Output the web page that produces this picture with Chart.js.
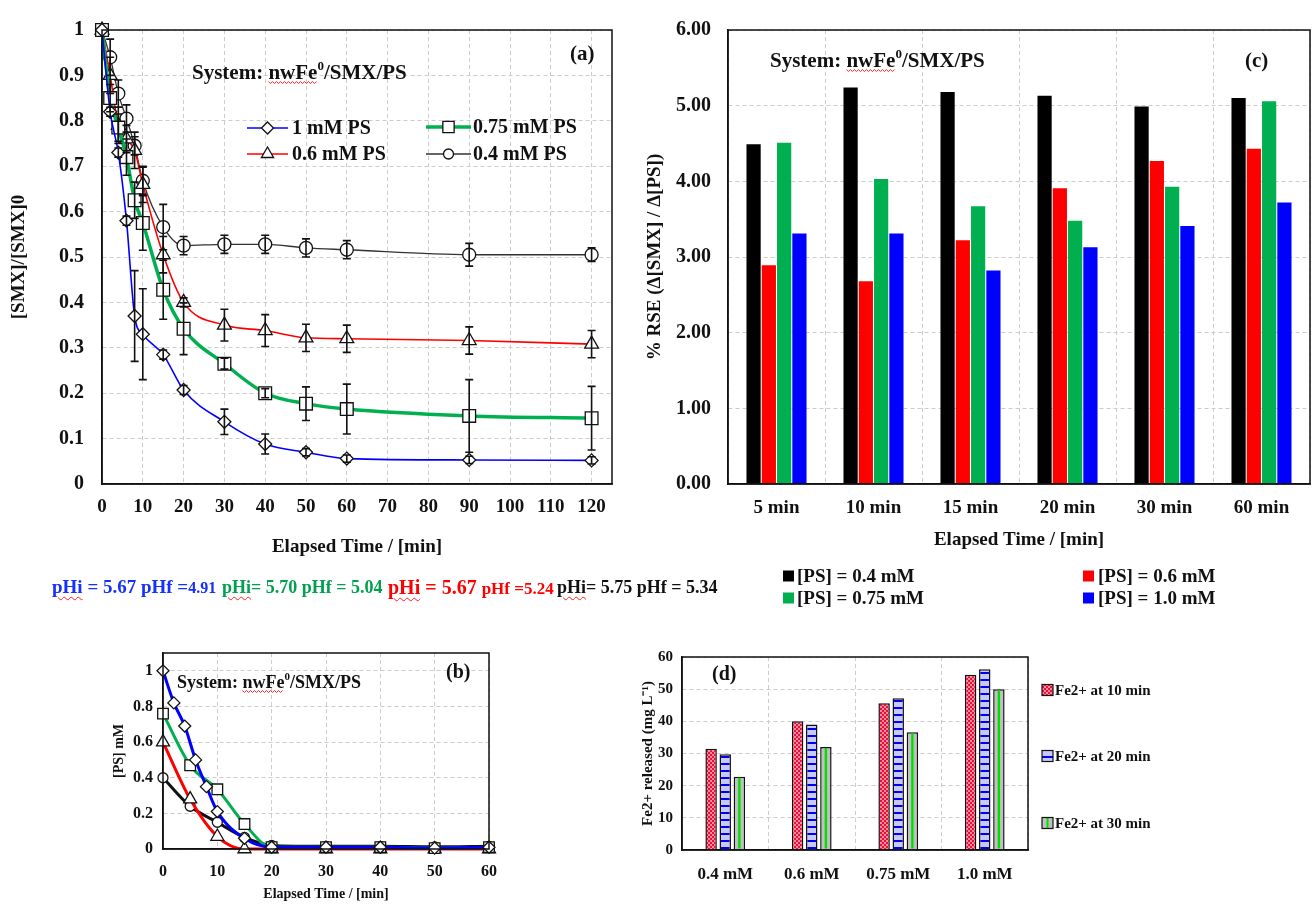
<!DOCTYPE html>
<html lang="en">
<head>
<meta charset="UTF-8">
<title>nwFe0 / SMX / PS</title>
<script src="https://cdn.jsdelivr.net/npm/chart.js@4.4.1/dist/chart.umd.min.js"></script>
<style>
  html, body { margin:0; padding:0; background:#fff; }
  #wrap { position:relative; width:1312px; height:904px; overflow:hidden; }
  .panel { position:absolute; }
  #pa { left:0; top:0; width:640px; height:620px; }
  #pc { left:640px; top:0; width:672px; height:620px; }
  #pb { left:0; top:620px; width:640px; height:284px; }
  #pd { left:640px; top:620px; width:672px; height:284px; }
  #ph { position:absolute; left:0; top:576px; width:760px; height:26px; z-index:2;
        font-family:"Liberation Serif","Times New Roman",serif; font-weight:bold; line-height:22px; white-space:nowrap; }
  #ph span.g { position:absolute; top:0; }
  #ph .w { text-decoration:underline wavy #ff2020; text-decoration-thickness:1px; text-underline-offset:3px; }
</style>
</head>
<body>
<div id="wrap">
  <div class="panel" id="pa"><canvas id="chartA"></canvas></div>
  <div class="panel" id="pc"><canvas id="chartC"></canvas></div>
  <div class="panel" id="pb"><canvas id="chartB"></canvas></div>
  <div class="panel" id="pd"><canvas id="chartD"></canvas></div>
  <div id="ph">
    <span class="g" style="left:52px; color:#1530ff; font-size:19px;"><span class="w">pHi</span> = 5.67 pHf =<span style="font-size:16px;">4.91</span></span>
    <span class="g" style="left:222px; color:#00a050; font-size:18px;"><span class="w">pHi</span>= 5.70 pHf = 5.04</span>
    <span class="g" style="left:388px; color:#ff0000; font-size:20px;"><span class="w">pHi</span> = 5.67 <span style="font-size:17px;">pHf =5.24</span></span>
    <span class="g" style="left:557px; color:#111; font-size:18px;"><span class="w">pHi</span>= 5.75 pHf = 5.34</span>
  </div>
</div>
<script>
// (a) [SMX]/[SMX]0 against time, with error bars
const timeA = [0, 2, 4, 6, 8, 10, 15, 20, 30, 40, 50, 60, 90, 120];
const smx_1mM   = [1, 0.82, 0.73, 0.58, 0.37, 0.33, 0.285, 0.207, 0.137, 0.088, 0.07, 0.056, 0.053, 0.052];
const smx_075mM = [1, 0.85, 0.785, 0.72, 0.625, 0.575, 0.428, 0.342, 0.265, 0.2, 0.177, 0.165, 0.15, 0.145];
const smx_06mM  = [1, 0.9, 0.79, 0.76, 0.735, 0.66, 0.505, 0.4, 0.35, 0.338, 0.322, 0.32, 0.316, 0.308];
const smx_04mM  = [1, 0.94, 0.86, 0.805, 0.745, 0.668, 0.566, 0.525, 0.528, 0.528, 0.52, 0.516, 0.505, 0.505];
const sd_1mM   = [0, 0.01, 0.01, 0.01, 0.1, 0.1, 0.01, 0.01, 0.028, 0.022, 0.008, 0.008, 0.008, 0.008];
const sd_075mM = [0, 0.03, 0.03, 0.04, 0.04, 0.06, 0.065, 0.057, 0.012, 0.01, 0.037, 0.055, 0.08, 0.07];
const sd_06mM  = [0, 0.04, 0.04, 0.03, 0.04, 0.04, 0.04, 0.01, 0.035, 0.035, 0.03, 0.03, 0.03, 0.03];
const sd_04mM  = [0, 0.04, 0.03, 0.03, 0.02, 0.03, 0.05, 0.02, 0.02, 0.02, 0.02, 0.02, 0.025, 0.015];

// (b) [PS] mM against time
const timeB_1mM = [0, 2, 4, 6, 8, 10, 15, 20, 30, 40, 50, 60];
const ps_1mM    = [1, 0.82, 0.69, 0.5, 0.35, 0.21, 0.06, 0.01, 0.01, 0.01, 0.005, 0.01];
const timeB     = [0, 5, 10, 15, 20, 30, 40, 50, 60];
const ps_075mM  = [0.76, 0.47, 0.335, 0.14, 0.01, 0.01, 0.01, 0.005, 0.01];
const ps_06mM   = [0.6, 0.28, 0.07, 0, 0, 0, 0, 0, 0];
const ps_04mM   = [0.4, 0.24, 0.15, 0.065, 0.02, 0.015, 0.015, 0.012, 0.015];

// (c) % RSE
const rseTimes = ['5 min', '10 min', '15 min', '20 min', '30 min', '60 min'];
const rse_04mM  = [4.49, 5.24, 5.18, 5.13, 4.99, 5.10];
const rse_06mM  = [2.89, 2.68, 3.22, 3.91, 4.27, 4.43];
const rse_075mM = [4.51, 4.03, 3.67, 3.48, 3.93, 5.06];
const rse_10mM  = [3.31, 3.31, 2.82, 3.13, 3.41, 3.72];

// (d) Fe2+ released
const feDoses = ['0.4 mM', '0.6 mM', '0.75 mM', '1.0 mM'];
const fe_10min = [31.5, 40, 45.6, 54.5];
const fe_20min = [29.8, 39, 47.2, 56.2];
const fe_30min = [22.8, 32, 36.6, 50];

const SERIF = '"Liberation Serif", "Times New Roman", serif';
const BLUE = '#0000ff', RED = '#ff0000', GREEN = '#00b050', INK = '#111';

Chart.defaults.font.family = SERIF;
Chart.defaults.font.weight = 'bold';
Chart.defaults.color = INK;
Chart.defaults.animation = false;
Chart.defaults.maintainAspectRatio = false;
Chart.defaults.plugins.legend.display = false;
Chart.defaults.plugins.tooltip.enabled = false;

function fnt(size) { return 'bold ' + size + 'px ' + SERIF; }
function plainNum(v) { return String(parseFloat(v.toFixed(2))); }

// red spell-check squiggle, kept because the figure shows it
function squiggle(ctx, x0, x1, y) {
    ctx.save();
    ctx.strokeStyle = '#ff2020';
    ctx.lineWidth = 1;
    ctx.beginPath();
    let k = 0;
    for (let x = x0; x <= x1; x += 2, k++) {
        const yy = y + (k % 2 ? 1.5 : -0.5);
        if (k === 0) ctx.moveTo(x, yy); else ctx.lineTo(x, yy);
    }
    ctx.stroke();
    ctx.restore();
}

function drawRich(ctx, x, y, parts) {
    ctx.save();
    ctx.textAlign = 'left';
    ctx.textBaseline = 'alphabetic';
    parts.forEach(function(p) {
        ctx.font = fnt(p.size);
        ctx.fillStyle = p.color || INK;
        const w = ctx.measureText(p.text).width;
        ctx.fillText(p.text, x, y - (p.rise || 0));
        if (p.wavy) squiggle(ctx, x, x + w, y + 3);
        x += w;
    });
    ctx.restore();
}

function systemLabel(size) {
    return [
        {text: 'System: ', size: size},
        {text: 'nwFe', size: size, wavy: true},
        {text: '0', size: Math.round(size * 0.6), rise: size * 0.45},
        {text: '/SMX/PS', size: size}
    ];
}

function marker(ctx, style, x, y, r) {
    ctx.beginPath();
    if (style === 'circle') {
        ctx.arc(x, y, r, 0, Math.PI * 2);
    } else if (style === 'rect') {
        const s = r * Math.SQRT1_2;
        ctx.rect(x - s, y - s, 2 * s, 2 * s);
    } else if (style === 'rectRot') {
        ctx.moveTo(x - r, y); ctx.lineTo(x, y - r); ctx.lineTo(x + r, y); ctx.lineTo(x, y + r); ctx.closePath();
    } else if (style === 'triangle') {
        ctx.moveTo(x, y - r);
        ctx.lineTo(x + r * Math.sin(Math.PI * 2 / 3), y - r * Math.cos(Math.PI * 2 / 3));
        ctx.lineTo(x - r * Math.sin(Math.PI * 2 / 3), y - r * Math.cos(Math.PI * 2 / 3));
        ctx.closePath();
    }
    ctx.fill();
    ctx.stroke();
}

const notes = {
    id: 'notes',
    afterDraw(chart, args, opts) {
        (opts.items || []).forEach(function(n) { drawRich(chart.ctx, n.x, n.y, n.parts); });
    }
};

const frame = {
    id: 'frame',
    afterDraw(chart) {
        const a = chart.chartArea, ctx = chart.ctx;
        ctx.save();
        ctx.strokeStyle = INK;
        ctx.lineWidth = 1.5;
        ctx.strokeRect(a.left, a.top, a.right - a.left, a.bottom - a.top);
        ctx.restore();
    }
};

const errorBars = {
    id: 'errorBars',
    afterDatasetsDraw(chart) {
        const ctx = chart.ctx, xs = chart.scales.x, ys = chart.scales.y;
        chart.data.datasets.forEach(function(ds) {
            if (!ds.errors) return;
            ctx.save();
            ctx.strokeStyle = INK;
            ctx.lineWidth = 1.6;
            ds.data.forEach(function(p, j) {
                const e = ds.errors[j];
                if (!e) return;
                const x = xs.getPixelForValue(p.x);
                const yt = ys.getPixelForValue(p.y + e), yb = ys.getPixelForValue(p.y - e);
                ctx.beginPath();
                ctx.moveTo(x, yt); ctx.lineTo(x, yb);
                ctx.moveTo(x - 4, yt); ctx.lineTo(x + 4, yt);
                ctx.moveTo(x - 4, yb); ctx.lineTo(x + 4, yb);
                ctx.stroke();
            });
            ctx.restore();
        });
    }
};

// legend with a line sample and its marker, for panel (a)
const lineKey = {
    id: 'lineKey',
    afterDraw(chart, args, opts) {
        const ctx = chart.ctx;
        (opts.items || []).forEach(function(it) {
            const ds = chart.data.datasets[it.index];
            ctx.save();
            ctx.strokeStyle = ds.borderColor;
            ctx.lineWidth = ds.borderWidth;
            ctx.beginPath();
            ctx.moveTo(it.x0, it.y); ctx.lineTo(it.x1, it.y);
            ctx.stroke();
            ctx.fillStyle = '#fff';
            ctx.strokeStyle = INK;
            ctx.lineWidth = 1.3;
            marker(ctx, ds.pointStyle, (it.x0 + it.x1) / 2, it.y, it.r);
            ctx.fillStyle = INK;
            ctx.font = fnt(it.size);
            ctx.textBaseline = 'middle';
            ctx.fillText(ds.label, it.tx, it.y + 1);
            ctx.restore();
        });
    }
};

// legend with square swatches, for panels (c) and (d)
const boxKey = {
    id: 'boxKey',
    afterDraw(chart, args, opts) {
        const ctx = chart.ctx;
        (opts.items || []).forEach(function(it) {
            const ds = chart.data.datasets[it.index];
            ctx.save();
            ctx.fillStyle = ds.backgroundColor;
            ctx.fillRect(it.x, it.y - it.s / 2, it.s, it.s);
            if (ds.stripe) {
                ctx.fillStyle = ds.stripe;
                ctx.fillRect(it.x + it.s / 2 - 1, it.y - it.s / 2, 2, it.s);
            }
            if (ds.borderWidth) {
                ctx.strokeStyle = INK;
                ctx.lineWidth = 1.2;
                ctx.strokeRect(it.x, it.y - it.s / 2, it.s, it.s);
            }
            ctx.fillStyle = INK;
            ctx.font = fnt(it.size);
            ctx.textBaseline = 'middle';
            ctx.fillText(ds.label, it.tx, it.y + 1);
            ctx.restore();
        });
    }
};

// green centre stripe on the 30 min bars of panel (d)
const barStripe = {
    id: 'barStripe',
    afterDatasetsDraw(chart) {
        const ctx = chart.ctx;
        chart.data.datasets.forEach(function(ds, i) {
            if (!ds.stripe) return;
            chart.getDatasetMeta(i).data.forEach(function(el) {
                ctx.save();
                ctx.fillStyle = ds.stripe;
                ctx.fillRect(el.x - 1.2, el.y + 1, 2.4, el.base - el.y - 2);
                ctx.restore();
            });
        });
    }
};

function pts(xs, ys) { return xs.map(function(x, i) { return {x: x, y: ys[i]}; }); }

function series(label, xs, ys, errs, color, width, style, radius) {
    return {
        label: label, data: pts(xs, ys), errors: errs,
        borderColor: color, borderWidth: width,
        pointStyle: style, pointRadius: radius,
        pointBackgroundColor: '#fff', pointBorderColor: INK, pointBorderWidth: 1.3,
        cubicInterpolationMode: 'monotone', fill: false, clip: false
    };
}

const GRID = {color: '#cccccc', drawTicks: false};
const BORDER = {color: INK, width: 1.5, dash: [4, 3]};

// ---------- panel (a) ----------
new Chart(document.getElementById('chartA'), {
    type: 'line',
    data: {
        datasets: [
            series('1 mM PS', timeA, smx_1mM, sd_1mM, BLUE, 1.6, 'rectRot', 6.5),
            series('0.75 mM PS', timeA, smx_075mM, sd_075mM, GREEN, 3.5, 'rect', 9),
            series('0.6 mM PS', timeA, smx_06mM, sd_06mM, RED, 1.6, 'triangle', 8),
            series('0.4 mM PS', timeA, smx_04mM, sd_04mM, '#333', 1.3, 'circle', 6.5)
        ]
    },
    options: {
        layout: {padding: {left: 0, right: 28, top: 22, bottom: 61}},
        scales: {
            x: {
                type: 'linear', min: 0, max: 125,
                ticks: {stepSize: 10, includeBounds: false, padding: 12, maxRotation: 0, font: {size: 19}},
                grid: GRID, border: BORDER,
                title: {display: true, text: 'Elapsed Time / [min]', font: {size: 19}, padding: {top: 0, bottom: 1}},
                afterFit: function(s) { s.height = 75; }
            },
            y: {
                min: 0, max: 1,
                ticks: {stepSize: 0.1, includeBounds: false, padding: 18, font: {size: 20}, callback: plainNum},
                grid: GRID, border: BORDER,
                title: {display: true, text: '[SMX]/[SMX]0', font: {size: 19}, padding: {top: 8, bottom: 0}},
                afterFit: function(s) { s.width = 102; }
            }
        },
        plugins: {
            lineKey: {items: [
                {index: 0, x0: 247, x1: 288, y: 128, r: 6, tx: 292, size: 20},
                {index: 1, x0: 426, x1: 471, y: 127, r: 8, tx: 473, size: 20},
                {index: 2, x0: 247, x1: 288, y: 154, r: 7, tx: 292, size: 20},
                {index: 3, x0: 426, x1: 471, y: 154, r: 5, tx: 473, size: 20}
            ]},
            notes: {items: [
                {x: 192, y: 79, parts: systemLabel(21)},
                {x: 570, y: 60, parts: [{text: '(a)', size: 21}]}
            ]}
        }
    },
    plugins: [errorBars, frame, lineKey, notes]
});

// ---------- panel (c) ----------
new Chart(document.getElementById('chartC'), {
    type: 'bar',
    data: {
        labels: rseTimes,
        datasets: [
            {label: '[PS] = 0.4 mM', data: rse_04mM, backgroundColor: '#000000'},
            {label: '[PS] = 0.6 mM', data: rse_06mM, backgroundColor: RED},
            {label: '[PS] = 0.75 mM', data: rse_075mM, backgroundColor: GREEN},
            {label: '[PS] = 1.0 mM', data: rse_10mM, backgroundColor: BLUE}
        ]
    },
    options: {
        layout: {padding: {left: 0, right: 2, top: 30, bottom: 65}},
        datasets: {bar: {categoryPercentage: 0.63, barPercentage: 0.93}},
        scales: {
            x: {
                ticks: {padding: 13, maxRotation: 0, font: {size: 19}},
                grid: GRID, border: BORDER,
                title: {display: true, text: 'Elapsed Time / [min]', font: {size: 19}, padding: {top: 0, bottom: 4}},
                afterFit: function(s) { s.height = 71; }
            },
            y: {
                min: 0, max: 6,
                ticks: {stepSize: 1, padding: 17, font: {size: 20}, callback: function(v) { return v.toFixed(2); }},
                grid: GRID, border: BORDER,
                title: {display: true, text: '% RSE (\u0394[SMX] / \u0394[PS])', font: {size: 19}, padding: {top: 4, bottom: 0}},
                afterFit: function(s) { s.width = 88; }
            }
        },
        plugins: {
            boxKey: {items: [
                {index: 0, x: 143, y: 576, s: 11, tx: 157, size: 19},
                {index: 1, x: 443, y: 576, s: 11, tx: 458, size: 19},
                {index: 2, x: 143, y: 598, s: 11, tx: 157, size: 19},
                {index: 3, x: 443, y: 598, s: 11, tx: 458, size: 19}
            ]},
            notes: {items: [
                {x: 130, y: 67, parts: systemLabel(21)},
                {x: 605, y: 67, parts: [{text: '(c)', size: 21}]}
            ]}
        }
    },
    plugins: [frame, boxKey, notes]
});

// ---------- panel (b) ----------
new Chart(document.getElementById('chartB'), {
    type: 'line',
    data: {
        datasets: [
            series('1 mM PS', timeB_1mM, ps_1mM, null, BLUE, 3, 'rectRot', 6),
            series('0.75 mM PS', timeB, ps_075mM, null, GREEN, 3, 'rect', 7.5),
            series('0.6 mM PS', timeB, ps_06mM, null, RED, 3, 'triangle', 7.5),
            series('0.4 mM PS', timeB, ps_04mM, null, INK, 3, 'circle', 5)
        ]
    },
    options: {
        layout: {padding: {left: 108, right: 151, top: 33, bottom: 0}},
        scales: {
            x: {
                type: 'linear', min: 0, max: 60,
                ticks: {stepSize: 10, includeBounds: false, padding: 13, maxRotation: 0, font: {size: 16}},
                grid: GRID, border: BORDER,
                title: {display: true, text: 'Elapsed Time / [min]', font: {size: 14}, padding: {top: 0, bottom: 1}},
                afterFit: function(s) { s.height = 55; }
            },
            y: {
                min: 0, max: 1.1,
                ticks: {stepSize: 0.2, includeBounds: false, padding: 10, font: {size: 16}, callback: plainNum},
                grid: GRID, border: BORDER,
                title: {display: true, text: '[PS] mM', font: {size: 14}, padding: {top: 3, bottom: 0}},
                afterFit: function(s) { s.width = 55; }
            }
        },
        plugins: {
            notes: {items: [
                {x: 177, y: 68, parts: systemLabel(18)},
                {x: 446, y: 58, parts: [{text: '(b)', size: 20}]}
            ]}
        }
    },
    plugins: [frame, notes]
});

// ---------- panel (d) ----------
function tile(w, h, paint) {
    const c = document.createElement('canvas');
    c.width = w; c.height = h;
    paint(c.getContext('2d'));
    return c.getContext('2d').createPattern(c, 'repeat');
}
const dotted = tile(4, 4, function(g) {
    g.fillStyle = '#ff8a9c'; g.fillRect(0, 0, 4, 4);
    g.fillStyle = '#e8103a'; g.fillRect(0, 0, 2, 2); g.fillRect(2, 2, 2, 2);
});
const hatched = tile(6, 7, function(g) {
    g.fillStyle = '#c8c8ff'; g.fillRect(0, 0, 6, 7);
    g.fillStyle = '#0000ee'; g.fillRect(0, 3, 6, 2);
});

new Chart(document.getElementById('chartD'), {
    type: 'bar',
    data: {
        labels: feDoses,
        datasets: [
            {label: 'Fe2+ at 10 min', data: fe_10min, backgroundColor: dotted, borderColor: INK, borderWidth: 1.5},
            {label: 'Fe2+ at 20 min', data: fe_20min, backgroundColor: hatched, borderColor: INK, borderWidth: 1.5},
            {label: 'Fe2+ at 30 min', data: fe_30min, backgroundColor: '#c0c0c0', stripe: '#00e000', borderColor: INK, borderWidth: 1.5}
        ]
    },
    options: {
        layout: {padding: {left: 0, right: 284, top: 37, bottom: 0}},
        datasets: {bar: {categoryPercentage: 0.49, barPercentage: 0.81}},
        scales: {
            x: {
                ticks: {padding: 14, maxRotation: 0, font: {size: 17}},
                grid: GRID, border: BORDER,
                afterFit: function(s) { s.height = 54; }
            },
            y: {
                min: 0, max: 60,
                ticks: {stepSize: 10, padding: 9, font: {size: 15}},
                grid: GRID, border: BORDER,
                title: {display: true, text: 'Fe2+ released (mg L\u207B\u00B9)', font: {size: 15, lineHeight: 1}, padding: {top: 1, bottom: 0}},
                afterFit: function(s) { s.width = 42; }
            }
        },
        plugins: {
            boxKey: {items: [
                {index: 0, x: 402, y: 70, s: 11, tx: 415, size: 15},
                {index: 1, x: 402, y: 136, s: 11, tx: 415, size: 15},
                {index: 2, x: 402, y: 203, s: 11, tx: 415, size: 15}
            ]},
            notes: {items: [
                {x: 72, y: 60, parts: [{text: '(d)', size: 20}]}
            ]}
        }
    },
    plugins: [barStripe, frame, boxKey, notes]
});
</script>
</body>
</html>
